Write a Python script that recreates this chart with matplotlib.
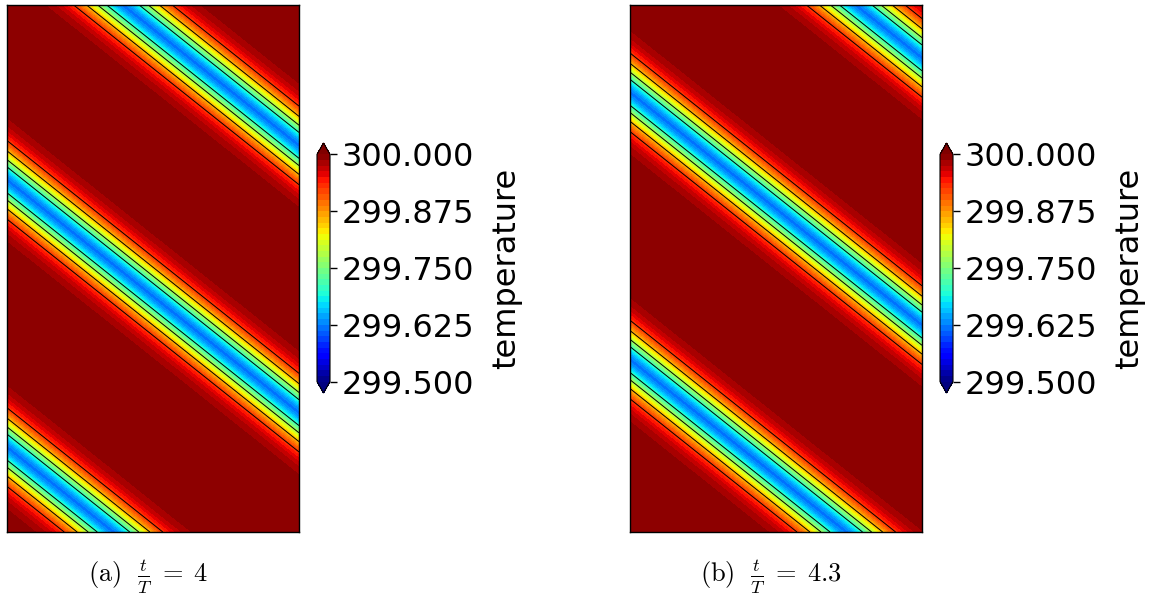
import numpy as np
import matplotlib
matplotlib.use('Agg')
import matplotlib.pyplot as plt

# panel captions
panel_labels = ['(a)', '(b)']
time_ratio = ['4', '4.3']

# band description (domain units, width of domain = 1)
band_centre = [0.397, 0.773]   # x where a band centre crosses the top edge
band_period = 1.148            # horizontal spacing between bands
band_width = 0.130
band_shape = 1.7
band_slope = 0.8               # dy/dx of the bands (going down to the right)
t_base = 300.0
t_min = 299.62

# contour line levels and colourbar ticks
line_levels = [299.70, 299.77, 299.85, 299.92]
fill_levels = np.linspace(299.5, 300.0, 41)
cbar_ticks = [299.5, 299.625, 299.75, 299.875, 300.0]

x_len, y_len = 1.0, 1.811

plt.rcParams['mathtext.fontset'] = 'cm'

W, H = 1151, 601
fig = plt.figure(figsize=(W / 100, H / 100), dpi=100)

x = np.linspace(0, x_len, 200)
y = np.linspace(0, y_len, 360)
X, Y = np.meshgrid(x, y)
# distance along x from the band line through the top edge
S = X - (y_len - Y) / band_slope

ax_left = [7, 630]
for i in range(2):
    d = (S - band_centre[i] + band_period / 2) % band_period - band_period / 2
    temp = t_base - (t_base - t_min) * np.exp(-(np.abs(d) / band_width) ** band_shape)

    ax = fig.add_axes([ax_left[i] / W, (H - 532) / H, 292 / W, 527 / H])
    cf = ax.contourf(X, Y, temp, levels=fill_levels, cmap='jet', extend='both')
    ax.contour(X, Y, temp, levels=line_levels, colors='k', linewidths=0.7)
    ax.set_xlim(0, x_len)
    ax.set_ylim(0, y_len)
    ax.set_xticks([])
    ax.set_yticks([])
    for sp in ax.spines.values():
        sp.set_linewidth(1.0)

    # colourbar axes include the triangular extensions
    cax = fig.add_axes([(ax_left[i] + 310) / W, (H - 393) / H, 13 / W, 250 / H])
    cb = fig.colorbar(cf, cax=cax, ticks=cbar_ticks, format='%.3f')
    cb.ax.tick_params(labelsize=23, length=5, width=1)
    cb.set_label('temperature', fontsize=23, labelpad=12)

    fig.text((ax_left[i] + 141) / W, 1 - 577 / H,
             r'$\mathrm{' + panel_labels[i] + r'}\ \ \frac{t}{T}\;=\;' + time_ratio[i] + '$',
             ha='center', va='center', fontsize=19)

fig.savefig('out.png', dpi=100)
